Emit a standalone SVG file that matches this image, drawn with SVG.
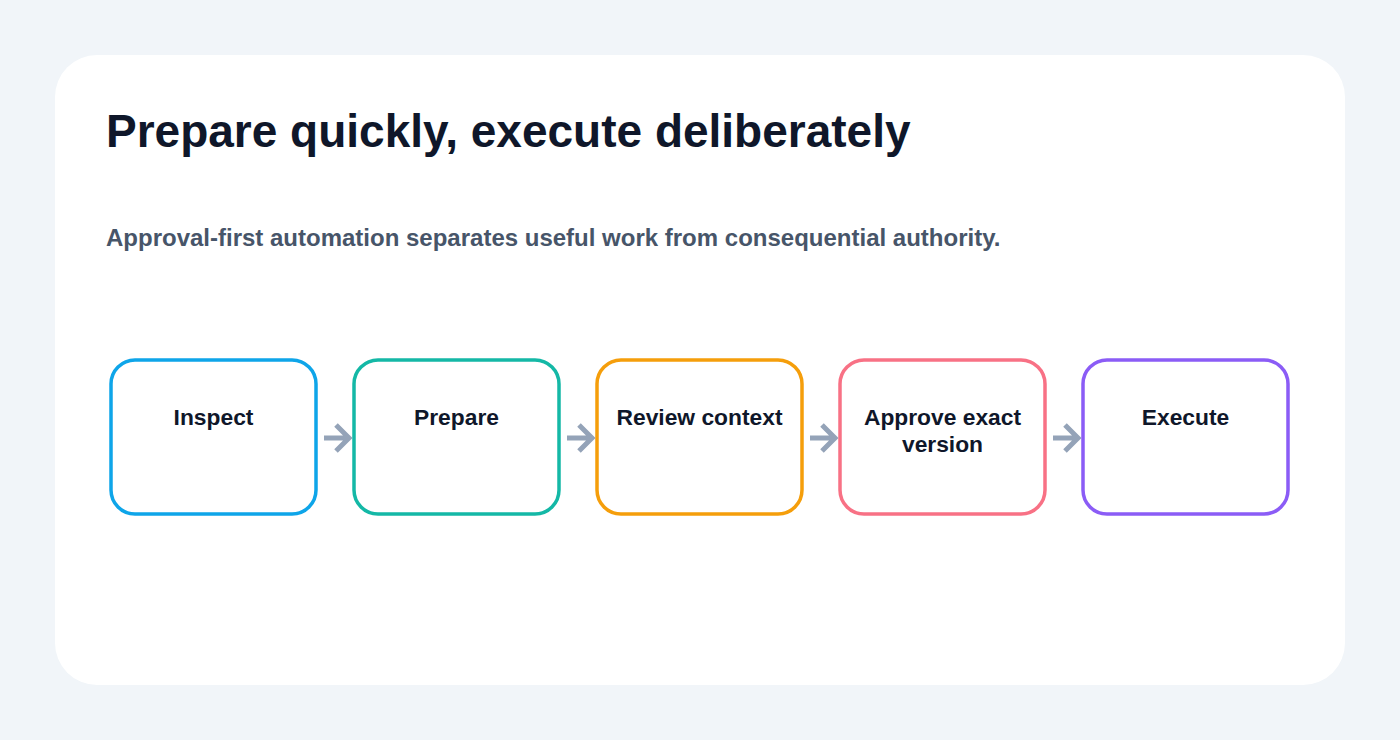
<svg xmlns="http://www.w3.org/2000/svg" width="1400" height="740" viewBox="0 0 1400 740">
<style>
.node rect{fill:#ffffff;stroke-width:3.5}
.lbl{font-family:"Liberation Sans",Arial,sans-serif;font-weight:700;font-size:22.8px;fill:#0f172a;text-anchor:middle}
.conn path{fill:none;stroke:#94a3b8;stroke-width:5;stroke-linecap:butt;stroke-linejoin:miter}
</style>
<rect x="0" y="0" width="1400" height="740" fill="#f1f5f9"/>
<rect x="55" y="55" width="1290" height="630" rx="42" fill="#ffffff"/>
<text x="106" y="147" font-family="'Liberation Sans',Arial,sans-serif" font-weight="700" font-size="46" fill="#0f172a">Prepare quickly, execute deliberately</text>
<text x="106" y="246" font-family="'Liberation Sans',Arial,sans-serif" font-weight="700" font-size="24" fill="#475569">Approval-first automation separates useful work from consequential authority.</text>
<g id="connectors" class="conn">
<path d="M324 438 H349 M336 425 L349 438 L336 451"/>
<path d="M567 438 H592 M579 425 L592 438 L579 451"/>
<path d="M810 438 H835 M822 425 L835 438 L822 451"/>
<path d="M1053 438 H1078 M1065 425 L1078 438 L1065 451"/>
</g>
<g id="node-inspect" class="node"><rect x="111" y="360" width="205" height="154" rx="24" stroke="#0ea5e9"/><text class="lbl" x="213.5" y="425">Inspect</text></g>
<g id="node-prepare" class="node"><rect x="354" y="360" width="205" height="154" rx="24" stroke="#14b8a6"/><text class="lbl" x="456.5" y="425">Prepare</text></g>
<g id="node-review" class="node"><rect x="597" y="360" width="205" height="154" rx="24" stroke="#f59e0b"/><text class="lbl" x="699.5" y="425">Review context</text></g>
<g id="node-approve" class="node"><rect x="840" y="360" width="205" height="154" rx="24" stroke="#f87185"/><text class="lbl" x="942.5" y="425">Approve exact</text><text class="lbl" x="942.5" y="452">version</text></g>
<g id="node-execute" class="node"><rect x="1083" y="360" width="205" height="154" rx="24" stroke="#8b5cf6"/><text class="lbl" x="1185.5" y="425">Execute</text></g>
</svg>
